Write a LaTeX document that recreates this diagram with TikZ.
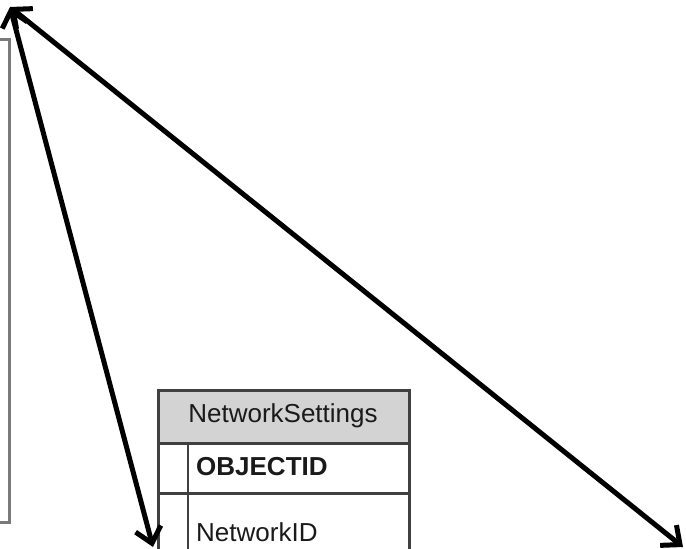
\documentclass[tikz,border=0pt]{standalone}
\usepackage{fontspec}
\setmainfont{Liberation Sans}
\usetikzlibrary{arrows.meta}
\definecolor{hdrgray}{HTML}{D3D3D3}
\definecolor{linegray}{HTML}{404040}
\definecolor{boxgray}{HTML}{7A7A7A}
\definecolor{txtgray}{HTML}{1A1A1A}
\tikzset{
  tblline/.style={draw=linegray, line width=2.5pt},
  leftbox/.style={draw=boxgray, line width=3pt},
  hdrcell/.style={tblline, fill=hdrgray, anchor=north west, minimum width=251pt, minimum height=53pt, inner sep=0pt},
  rowcell/.style={tblline, fill=white, anchor=north west, minimum width=251pt, minimum height=50pt, inner sep=0pt},
  celltext/.style={anchor=west, inner sep=0pt, text=txtgray, font=\fontsize{26}{30}\selectfont},
  conn/.style={draw=black, line width=5pt, line cap=round, line join=round,
    {Straight Barb[length=15pt,width=26pt,line width=5pt]}-{Straight Barb[length=15pt,width=26pt,line width=5pt]}},
}
\begin{document}
\begin{tikzpicture}[x=1pt,y=-1pt]
\useasboundingbox (0,0) rectangle (686,549);
\clip (0,0) rectangle (686,549);
\fill[white] (0,0) rectangle (686,549);
% partial box at left edge
\draw[leftbox] (-5,39) -- (9,39) -- (9,522) -- (-5,522);
% table
\node[hdrcell] (hdr) at (157,389) {};
\node[rowcell] (row1) at (157,442) {};
\node[rowcell, minimum height=120pt] (row2) at (157,492) {};
\draw[tblline] (188,442) -- (188,600);
\node[celltext, anchor=center] (hdrtext) at (283,416) {NetworkSettings};
\node[celltext] (objid) at (196,467) {\bfseries OBJECTID};
\node[celltext] (netid) at (196,532) {NetworkID};
% connectors
\coordinate (apex) at (10,7);
\coordinate (lend) at (153,547);
\coordinate (rend) at (683,547);
\draw[conn] (apex) -- (lend);
\draw[conn] (apex) -- (rend);
\end{tikzpicture}
\end{document}
